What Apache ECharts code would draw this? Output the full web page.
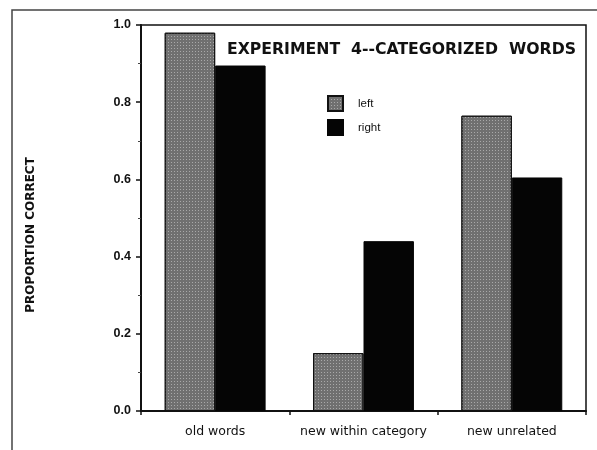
<!DOCTYPE html>
<html>
<head>
<meta charset="utf-8">
<script src="https://cdn.jsdelivr.net/npm/echarts@6/dist/echarts.min.js"></script>
<style>
  html, body { margin: 0; padding: 0; background: #fff; }
  #chart { width: 597px; height: 450px; }
</style>
</head>
<body>
<div id="chart"></div>
<script>
// data
var categories = ['old words', 'new within category', 'new unrelated'];
var leftHemi = [0.98, 0.15, 0.765];
var rightHemi = [0.895, 0.44, 0.605];

var font = 'Liberation Sans, Arial, sans-serif';
var wide = 'DejaVu Sans, sans-serif';
var chart = echarts.init(document.getElementById('chart'));

var option = {
  animation: false,
  backgroundColor: '#fff',
  title: {
    text: 'EXPERIMENT  4--CATEGORIZED  WORDS',
    left: 222,
    top: 37,
    textStyle: { fontFamily: wide, fontSize: 15.7, fontWeight: 'bold', color: '#111' }
  },
  legend: {
    orient: 'vertical',
    left: 322,
    top: 90,
    icon: 'rect',
    itemWidth: 15,
    itemHeight: 15,
    itemGap: 7,
    textStyle: { fontFamily: font, fontSize: 11.5, color: '#111', padding: [0, 0, 0, 10] },
    data: ['left', 'right']
  },
  grid: {
    left: 141, right: 11, top: 25, bottom: 39,
    show: true, borderColor: '#111', borderWidth: 1.5, backgroundColor: 'transparent'
  },
  xAxis: {
    type: 'category',
    data: categories,
    axisLine: { lineStyle: { color: '#111', width: 2 } },
    axisTick: { show: true, length: 4, lineStyle: { color: '#111', width: 1.5 } },
    axisLabel: { interval: 0, margin: 14, fontFamily: wide, fontSize: 12.5, color: '#111' }
  },
  yAxis: {
    type: 'value',
    min: 0, max: 1, interval: 0.2,
    name: 'PROPORTION CORRECT',
    nameLocation: 'middle',
    nameGap: 104,
    nameTextStyle: { fontFamily: wide, fontSize: 12, fontWeight: 'bold', color: '#111', padding: [0, 34, 0, 0] },
    axisLine: { show: true, lineStyle: { color: '#111', width: 2 } },
    axisTick: { show: true, length: 5, lineStyle: { color: '#111', width: 1.5 } },
    minorTick: { show: true, splitNumber: 2, length: 3, lineStyle: { color: '#444' } },
    splitLine: { show: false },
    axisLabel: {
      margin: 10, fontFamily: font, fontSize: 12.5, fontWeight: 'bold', color: '#111',
      formatter: function (v) { return v.toFixed(1); }
    }
  },
  series: [
    {
      name: 'left', type: 'bar', data: leftHemi,
      barGap: 0, barCategoryGap: '32%',
      itemStyle: {
        color: '#707070', borderColor: '#111', borderWidth: 1,
        decal: { symbol: 'rect', symbolSize: 1, color: 'rgba(255,255,255,0.4)', dashArrayX: [1, 2], dashArrayY: [1, 2] }
      }
    },
    {
      name: 'right', type: 'bar', data: rightHemi,
      itemStyle: { color: '#050505', borderColor: '#050505', borderWidth: 1 }
    }
  ],
  graphic: [
    {
      type: 'polyline',
      shape: { points: [[12, 450], [12, 10], [597, 10]] },
      style: { stroke: '#444', lineWidth: 1.5, fill: null }
    }
  ]
};
chart.setOption(option);
</script>
</body>
</html>
